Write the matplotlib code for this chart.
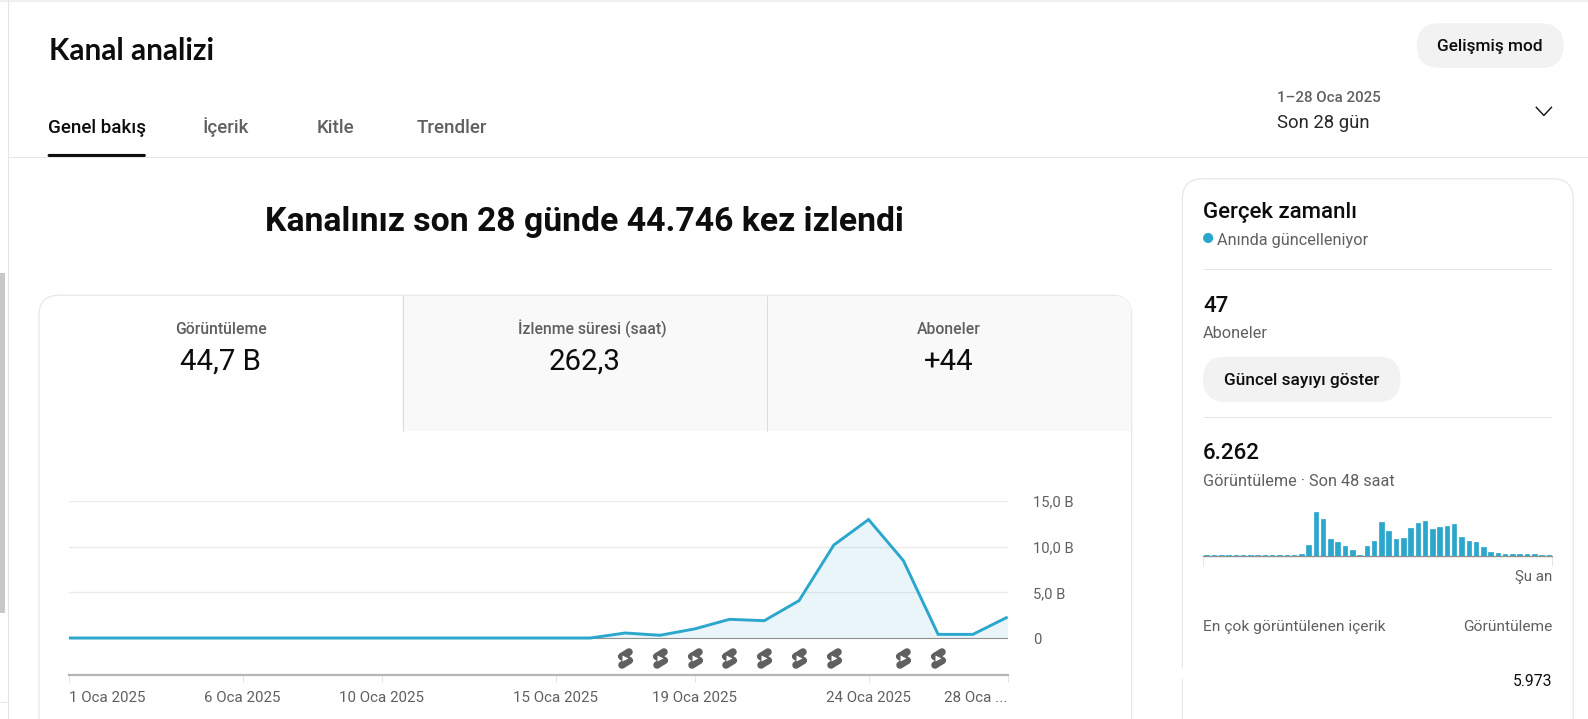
import matplotlib
matplotlib.use('Agg')
import numpy as np
from matplotlib import pyplot as plt
from matplotlib.patches import FancyBboxPatch, Rectangle, Circle
from matplotlib.path import Path
from matplotlib.markers import MarkerStyle

plt.rcParams['font.family'] = ['Roboto', 'DejaVu Sans']

# daily views in thousands ("B"), 1-28 Jan
days = list(range(1, 29))
views = [0, 0, 0, 0, 0, 0, 0, 0, 0, 0, 0, 0, 0, 0, 0, 0,
         0.55, 0.3, 1.0, 2.05, 1.9, 4.1, 10.2, 13.0, 8.5, 0.4, 0.4, 2.3]
short_days = [17, 18, 19, 20, 21, 22, 23, 25, 26]
tick_days = [1, 6, 10, 15, 19, 24, 28]
tick_labels = ['1 Oca 2025', '6 Oca 2025', '10 Oca 2025', '15 Oca 2025',
               '19 Oca 2025', '24 Oca 2025', '28 Oca ...']
y_ticks = [0, 5, 10, 15]
y_labels = ['0', '5,0 B', '10,0 B', '15,0 B']

# hourly views, last 48 hours
hourly = [16, 16, 16, 16, 16, 16, 16, 16, 16, 16, 16, 16, 16, 30, 130, 485,
          405, 185, 155, 115, 75, 12, 115, 170, 375, 280, 185, 200, 310, 365,
          390, 295, 320, 335, 350, 210, 170, 155, 100, 48, 36, 26, 26, 26, 26,
          26, 14, 14]

tabs = ['Genel bakış', 'İçerik', 'Kitle', 'Trendler']
metric_names = ['Görüntüleme', 'İzlenme süresi (saat)', 'Aboneler']
metric_values = ['44,7 B', '262,3', '+44']

BLUE = '#2ba6cd'
DARK = '#0d0d0d'
GREY = '#606060'
LINE = '#e5e5e5'

W, H = 1588, 719
K = 1.0127  # layout below was measured on a slightly smaller view of the page
fig = plt.figure(figsize=(W / 100, H / 100), dpi=100, facecolor='white')


def axes_px(x1, y1, x2, y2, **kw):
	return fig.add_axes([K * x1 / W, 1 - K * y2 / H, K * (x2 - x1) / W, K * (y2 - y1) / H], **kw)


page = fig.add_axes([0, 0, 1, 1], zorder=0)
page.set_xlim(0, W / K)
page.set_ylim(H / K, 0)
page.axis('off')


def text(x, y, s, size, color=DARK, weight='normal', ha='left', **kw):
	page.text(x, y, s, fontsize=size * 0.72 * K, color=color, fontweight=weight,
			  ha=ha, va='center', **kw)


def hline(x1, x2, y, color=LINE, lw=1.0):
	page.plot([x1, x2], [y, y], color=color, lw=lw * 0.72, solid_capstyle='butt')


def pill(x1, y1, x2, y2, color='#f2f2f2'):
	page.add_patch(FancyBboxPatch((x1, y1), x2 - x1, y2 - y1, mutation_aspect=1,
								  boxstyle='round,pad=0,rounding_size=%f' % ((y2 - y1) / 2),
								  fc=color, ec='none'))


# window edges
page.add_patch(Rectangle((0, 0), W, 2, fc='#f0f0f0', ec='none'))
page.add_patch(Rectangle((0, 270), 5, 335, fc='#c8c8c8', ec='none'))
page.plot([7.5, 7.5], [0, H], color=LINE, lw=0.8)
hline(0, 7, 693)

# header
text(48, 50, 'Kanal analizi', 29.4, weight='bold', family=['Lato', 'DejaVu Sans'])
pill(1399, 23, 1544, 67)
text(1471, 46, 'Gelişmiş mod', 17, weight='medium', ha='center')
tab_x = [47, 200, 313, 411]
for i, (x, name) in enumerate(zip(tab_x, tabs)):
	text(x, 126, name, 18.5, color=DARK if i == 0 else GREY, weight='medium')
page.add_patch(FancyBboxPatch((47, 152), 97, 3, boxstyle='round,pad=0,rounding_size=1.5',
							  fc=DARK, ec='none'))
hline(8, W, 155.5)
text(1261, 97, '1–28 Oca 2025', 15, color=GREY, weight='medium')
text(1261, 121, 'Son 28 gün', 18.3, color='#282828')
page.plot([1517, 1524.5, 1532], [106, 114, 106], color=DARK, lw=1.0)

text(577, 219, 'Kanalınız son 28 günde 44.746 kez izlendi', 33.3, weight='bold', ha='center')

# main card
card = FancyBboxPatch((38.5, 291.5), 1079, 600, boxstyle='round,pad=0,rounding_size=20',
					  fc='white', ec=LINE, lw=0.8)
page.add_patch(card)
for x1, x2 in [(397, 756.5), (756.5, 1117)]:
	r = Rectangle((x1, 292), x2 - x1, 134, fc='#f9f9f9', ec='none')
	page.add_patch(r)
	r.set_clip_path(card)
	page.plot([x1 + 0.5, x1 + 0.5], [292, 426], color='#dddddd', lw=0.7)
for x, x_val, name, val in zip([218, 584.5, 937], [218, 577.5, 937], metric_names, metric_values):
	text(x, 325, name, 15.5, color=GREY, weight='medium', ha='center')
	text(x_val, 357, val, 29, ha='center')

# side card
side = FancyBboxPatch((1167.5, 176.5), 386, 600, boxstyle='round,pad=0,rounding_size=20',
					  fc='white', ec=LINE, lw=0.8)
page.add_patch(side)
page.add_patch(Rectangle((1165, 660), 5, 10, fc='white', ec='none', zorder=5))
text(1188, 209.5, 'Gerçek zamanlı', 22, weight='medium')
page.add_patch(Circle((1193, 235), 5, fc=BLUE, ec='none'))
text(1202, 237, 'Anında güncelleniyor', 16, color=GREY)
hline(1188, 1533, 266)
text(1188, 303, '47', 22, weight='medium')
text(1188, 329, 'Aboneler', 16, color=GREY)
pill(1188, 352, 1383, 397)
text(1285, 376, 'Güncel sayıyı göster', 17, weight='medium', ha='center')
hline(1188, 1533, 412)
text(1188, 448, '6.262', 22, weight='medium')
text(1188, 475, 'Görüntüleme · Son 48 saat', 16, color=GREY)
text(1533, 570, 'Şu an', 15, color=GREY, ha='right')
text(1188, 619, 'En çok görüntülenen içerik', 15.3, color=GREY)
text(1533, 619, 'Görüntüleme', 15.3, color=GREY, ha='right')
text(1533, 673, '5.973', 15.5, ha='right')

# main line chart
ax = axes_px(68, 495, 995, 667, zorder=2)
ax.patch.set_alpha(0)
ax.set_xlim(days[0], days[-1])
ax.set_ylim(-4.11, 15)
ax.grid(False)
for v in y_ticks[1:]:
	ax.axhline(v, color='#ebebeb', lw=1.0, zorder=1)
ax.axhline(0, color='#909090', lw=0.8, zorder=3)
ax.fill_between(days, views, 0, color=BLUE, alpha=0.1, lw=0, zorder=2)
ax.plot(days, views, color=BLUE, lw=2.1, zorder=4, solid_joinstyle='miter',
		solid_capstyle='butt', clip_on=False)
for s in ['top', 'left', 'right']:
	ax.spines[s].set_visible(False)
ax.spines['bottom'].set_color('#b5b5b5')
ax.spines['bottom'].set_linewidth(1.6)
ax.set_xticks(tick_days)
ax.set_xticklabels(tick_labels, fontsize=15 * 0.72 * K, color=GREY)
ax.tick_params(axis='x', length=5, width=0.7, color=LINE, pad=6.5)
ax.get_xticklabels()[0].set_ha('left')
ax.get_xticklabels()[-1].set_ha('right')
ax.yaxis.tick_right()
ax.set_yticks(y_ticks)
ax.set_yticklabels(y_labels, fontsize=14.6 * 0.72 * K, color=GREY)
ax.tick_params(axis='y', length=0, pad=18)

# shorts icons under the line
capsules = Path([(-3.5, -6.5), (3.5, -2), (-3.5, 2), (3.5, 6.5), (-3.5, 2), (3.5, -2)],
				[Path.MOVETO, Path.LINETO, Path.MOVETO, Path.LINETO, Path.MOVETO, Path.LINETO])
marker = MarkerStyle(capsules, fillstyle='none', capstyle='round')
y_icon = [-2.2] * len(short_days)
ax.plot(short_days, y_icon, ls='none', marker=marker, ms=9.4, mec='#606060', mew=5.4, zorder=5)
ax.plot(short_days, y_icon, ls='none', marker='>', ms=4.2, mfc='white', mec='none', zorder=6)

# realtime bars
bx = axes_px(1188, 495, 1533, 549.5, zorder=2)
bx.patch.set_alpha(0)
hours = np.arange(len(hourly))
bx.bar(hours, hourly, width=0.62, color=BLUE, edgecolor=BLUE, lw=0.5, joinstyle='round', zorder=4)
bx.set_xlim(-0.5, len(hourly) - 0.5)
bx.set_ylim(0, 600)
for s in ['top', 'left', 'right']:
	bx.spines[s].set_visible(False)
bx.spines['bottom'].set_color('#909090')
bx.spines['bottom'].set_linewidth(1.0)
bx.set_yticks([])
bx.set_xticks([-0.5, len(hourly) - 0.5])
bx.set_xticklabels([])
bx.tick_params(axis='x', length=7, width=0.7, color=LINE)

fig.savefig('out.png', dpi=100)
